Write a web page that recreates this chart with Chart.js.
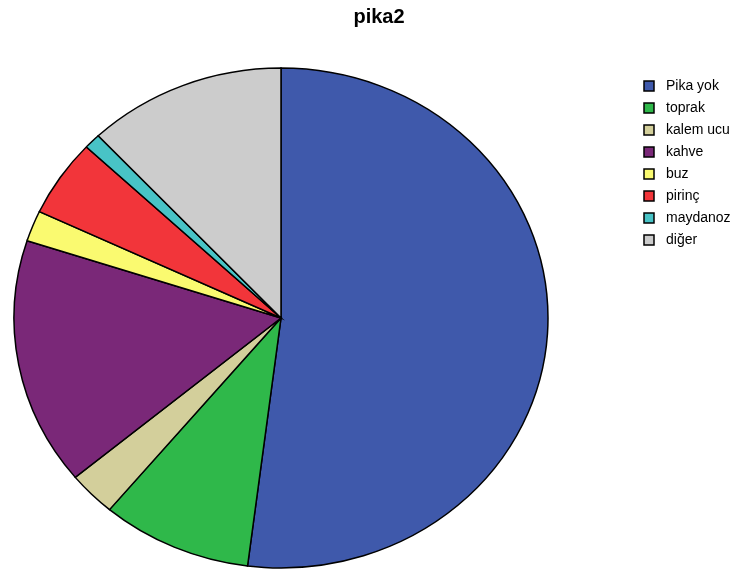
<!DOCTYPE html>
<html>
<head>
<meta charset="utf-8">
<script src="https://cdn.jsdelivr.net/npm/chart.js@4"></script>
<style>
  html, body { margin: 0; padding: 0; background: #fff; }
  #wrap { width: 735px; height: 572px; position: relative; }
</style>
</head>
<body>
<div id="wrap"><canvas id="pie"></canvas></div>
<script>
// pika2 — dağılım (yüzde)
const LABELS = ["Pika yok", "toprak", "kalem ucu", "kahve", "buz", "pirinç", "maydanoz", "diğer"];
const VALUES = [52.0, 9.1, 2.9, 16.0, 2.0, 5.0, 1.0, 12.0];
const COLORS = ["#3f59ab", "#2fb84a", "#d3cf9b", "#7a2878", "#fafa70", "#f2353a", "#48c3c6", "#cccccc"];

// pie is drawn slightly squashed, like the original
const CX = 281, CY = 318, RX = 267, RY = 250;

const ellipsePlugin = {
  id: "ellipse",
  beforeDatasetsDraw(chart) {
    const arc = chart.getDatasetMeta(0).data[0];
    const ctx = chart.ctx;
    ctx.save();
    ctx.translate(CX, CY);
    ctx.scale(RX / arc.outerRadius, RY / arc.outerRadius);
    ctx.translate(-arc.x, -arc.y);
  },
  afterDatasetsDraw(chart) {
    chart.ctx.restore();
  },
};

// simple legend top right, square swatch + label
const legendPlugin = {
  id: "boxLegend",
  afterDraw(chart) {
    const ctx = chart.ctx;
    ctx.save();
    ctx.font = "14px 'Liberation Sans', Arial, sans-serif";
    ctx.textBaseline = "middle";
    ctx.lineWidth = 1.5;
    LABELS.forEach((label, i) => {
      const y = 81 + i * 22;
      ctx.fillStyle = COLORS[i];
      ctx.fillRect(644, y, 10, 10);
      ctx.strokeStyle = "#000";
      ctx.strokeRect(644, y, 10, 10);
      ctx.fillStyle = "#000";
      ctx.fillText(label, 666, y + 5.5);
    });
    ctx.restore();
  },
};

new Chart(document.getElementById("pie"), {
  type: "pie",
  data: {
    labels: LABELS,
    datasets: [{
      data: VALUES,
      backgroundColor: COLORS,
      borderColor: "#000",
      borderWidth: 1.5,
      borderJoinStyle: "miter",
    }],
  },
  options: {
    responsive: true,
    maintainAspectRatio: false,
    animation: false,
    layout: { padding: { left: 23 } },
    plugins: {
      legend: { display: false },
      tooltip: { enabled: false },
      title: {
        display: true,
        text: "pika2",
        color: "#000",
        font: { family: "'Liberation Sans', Arial, sans-serif", size: 20, weight: "bold" },
        padding: { top: 5, bottom: 10 },
      },
    },
  },
  plugins: [ellipsePlugin, legendPlugin],
});
</script>
</body>
</html>
